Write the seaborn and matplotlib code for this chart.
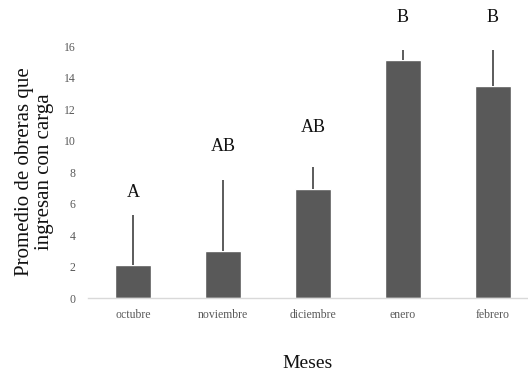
import numpy as np
import pandas as pd
import matplotlib.pyplot as plt
import seaborn as sns

# values
meses = ["octubre", "noviembre", "diciembre", "enero", "febrero"]
promedio = [2.1, 3.0, 6.9, 15.15, 13.5]
error_sup = [3.2, 4.5, 1.45, 0.6, 2.25]
letras = ["A", "AB", "AB", "B", "B"]
letra_y = [6.7, 9.6, 10.85, 17.8, 17.8]

df = pd.DataFrame({"mes": meses, "promedio": promedio})

sns.set_style("white")
plt.rcParams["font.family"] = ["Liberation Serif", "DejaVu Serif"]

fig = plt.figure(figsize=(5.28, 3.75), dpi=100)
ax = fig.add_axes([0.167, 0.205, 0.831, 0.672])

sns.barplot(data=df, x="mes", y="promedio", color="#595959", saturation=1,
            width=0.4, errorbar=None, ax=ax)

# one-sided error bars (upper only), no caps
x = np.arange(len(meses))
ax.errorbar(x, promedio, yerr=[np.zeros(len(meses)), error_sup],
            fmt="none", ecolor="#404040", elinewidth=1.2, capsize=0)

for xi, (txt, yy) in enumerate(zip(letras, letra_y)):
    ax.text(xi, yy, txt, ha="center", va="center", fontsize=13,
            color="#111111", clip_on=False)

ax.set_ylim(0, 16)
ax.set_xlim(-0.5, 4.38)
ax.set_yticks(range(0, 17, 2))

for side in ["top", "right", "left"]:
    ax.spines[side].set_visible(False)
ax.spines["bottom"].set_color("#d9d9d9")
ax.spines["bottom"].set_linewidth(1)

ax.tick_params(axis="both", length=0, labelsize=8.5, colors="#595959", pad=8)
ax.tick_params(axis="y", pad=9)

ax.set_xlabel("Meses", fontsize=14, color="#111111", labelpad=24)
ax.set_ylabel("Promedio de obreras que\ningresan con carga", fontsize=15,
              color="#111111", labelpad=7, linespacing=1.08)

fig.savefig("out.png", dpi=100)
